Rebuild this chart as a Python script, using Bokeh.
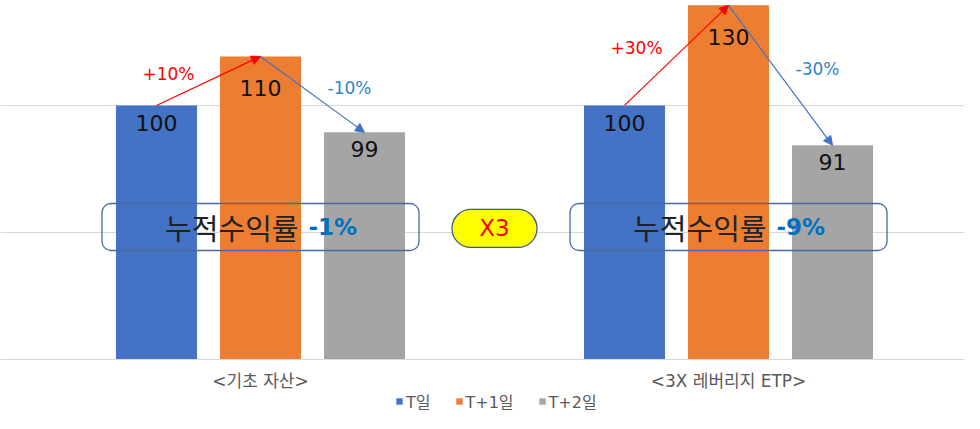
from bokeh.plotting import figure
from bokeh.layouts import column
from bokeh.models import (ColumnDataSource, Range1d, FixedTicker, BoxAnnotation,
                          Arrow, NormalHead, Legend, LegendItem)
from bokeh.core.properties import value
from bokeh.embed import file_html
from bokeh.resources import INLINE

# ---------------- data ----------------
groups = ["<기초 자산>", "<3X 레버리지 ETP>"]
series = ["T일", "T+1일", "T+2일"]
labels_t = [100, 100]
labels_t1 = [110, 130]
labels_t2 = [99, 91]
# bar heights as drawn in the (schematic, exaggerated) picture
heights_t = [100, 100]
heights_t1 = [119.3, 139.4]
heights_t2 = [89.4, 84.3]
changes_up = ["+10%", "+30%"]
changes_down = ["-10%", "-30%"]
cumulative_label = "누적수익률"
cumulative = ["-1%", "-9%"]
leverage = "X3"
gridline_values = [50, 100]

# ---------------- style ----------------
colors = ["#4472C4", "#ED7D31", "#A5A5A5"]
LATIN = "DejaVu Sans, Noto Sans CJK KR"
GROUP_STEP = 4.5
offsets = [-1, 0, 1]
BAR_W = 81 / 104
label_dy = [18, 32, 17]

centers = [i * GROUP_STEP for i in range(len(groups))]
mid = sum(centers) / len(centers)

p = figure(width=964, height=393, output_backend="svg", toolbar_location=None,
           x_range=Range1d(-2.5, 6.769), y_range=Range1d(0, 141.3),
           y_axis_location=None,
           min_border_left=0, min_border_right=0, min_border_top=0, min_border_bottom=34,
           outline_line_color=None, background_fill_color="white",
           border_fill_color="white")

p.xgrid.visible = False
p.ygrid.ticker = FixedTicker(ticks=gridline_values)
p.ygrid.grid_line_color = "#D9D9D9"
p.ygrid.grid_line_width = 1

# x axis: group labels
p.xaxis.ticker = FixedTicker(ticks=centers)
p.xaxis.major_label_overrides = {c: g for c, g in zip(centers, groups)}
p.xaxis.major_tick_out = 0
p.xaxis.major_tick_in = 0
p.xaxis.minor_tick_out = 0
p.xaxis.minor_tick_in = 0
p.xaxis.axis_line_color = "#D9D9D9"
p.xaxis.major_label_standoff = 11
p.xaxis.major_label_text_font = LATIN
p.xaxis.major_label_text_font_size = "17px"
p.xaxis.major_label_text_color = "#595959"

heights = [heights_t, heights_t1, heights_t2]
labels = [labels_t, labels_t1, labels_t2]

for s, name in enumerate(series):
    src = ColumnDataSource(dict(
        x=[c + offsets[s] for c in centers],
        top=heights[s],
        lab=[str(v) for v in labels[s]],
    ))
    p.vbar(x="x", top="top", bottom=0, width=BAR_W, source=src,
           fill_color=colors[s], line_color=None)
    p.text(x="x", y="top", text="lab", source=src, text_align="center",
           text_baseline="middle", y_offset=label_dy[s],
           text_font=value(LATIN), text_font_size="22px", text_color="#111111",
           level="overlay")

# arrows between bar tops
up_src = ColumnDataSource(dict(
    xs=[c + offsets[0] for c in centers], ys=heights_t,
    xe=[c + offsets[1] for c in centers], ye=heights_t1,
    xm=[c + (offsets[0] + offsets[1]) / 2 for c in centers],
    ym=[(a + b) / 2 for a, b in zip(heights_t, heights_t1)],
    t=changes_up))
down_src = ColumnDataSource(dict(
    xs=[c + offsets[1] for c in centers], ys=heights_t1,
    xe=[c + offsets[2] for c in centers], ye=heights_t2,
    xm=[c + (offsets[1] + offsets[2]) / 2 for c in centers],
    ym=[(a + b) / 2 for a, b in zip(heights_t1, heights_t2)],
    t=changes_down))

p.add_layout(Arrow(end=NormalHead(size=9, fill_color="#FF0000", line_color="#FF0000"),
                   x_start="xs", y_start="ys", x_end="xe", y_end="ye",
                   line_color="#FF0000", line_width=1.2, source=up_src))
p.add_layout(Arrow(end=NormalHead(size=9, fill_color="#4472C4", line_color="#4472C4"),
                   x_start="xs", y_start="ys", x_end="xe", y_end="ye",
                   line_color="#4472C4", line_width=1.2, source=down_src))

p.text(x="xm", y="ym", text="t", source=up_src, text_align="center",
       text_baseline="middle", x_offset=-40, y_offset=-7,
       text_font=value(LATIN), text_font_size="17px", text_color="#FF0000",
       level="overlay")
p.text(x="xm", y="ym", text="t", source=down_src, text_align="center",
       text_baseline="middle", x_offset=37, y_offset=-6,
       text_font=value(LATIN), text_font_size="17px", text_color="#2E86C8",
       level="overlay")

# cumulative-return boxes
for c in centers:
    p.add_layout(BoxAnnotation(left=c - 1.524, right=c + 1.524, top=61.4, bottom=42.9,
                               fill_color=None, fill_alpha=0, line_color="#4A67A0",
                               line_width=1.3, line_alpha=1, border_radius=9))

cum_src = ColumnDataSource(dict(x=centers, y=[52.0] * len(centers),
                                name=[cumulative_label] * len(centers), v=cumulative))
p.text(x="x", y="y", text="name", source=cum_src, text_align="right",
       text_baseline="middle", x_offset=38,
       text_font=value("Noto Sans CJK KR"), text_font_size="29px", text_color="#222222",
       level="overlay")
p.text(x="x", y="y", text="v", source=cum_src, text_align="left",
       text_baseline="middle", x_offset=48, text_font_style="bold",
       text_font=value("DejaVu Sans"), text_font_size="23px", text_color="#0070C0",
       level="overlay")

# leverage pill
p.add_layout(BoxAnnotation(left=mid - 0.409, right=mid + 0.409, top=59.06, bottom=44.1,
                           fill_color="#FFFF00", fill_alpha=1, line_color="#3F5A8A",
                           line_width=1.3, line_alpha=1, border_radius=19))
lev_src = ColumnDataSource(dict(x=[mid], y=[51.6], t=[leverage]))
p.text(x="x", y="y", text="t", source=lev_src, text_align="center",
       text_baseline="middle", text_font=value("DejaVu Sans"),
       text_font_size="23px", text_color="#FF0000", level="overlay")

# ---------------- legend strip ----------------
lg = figure(width=964, height=20, output_backend="svg", toolbar_location=None,
            x_range=Range1d(0, 1), y_range=Range1d(0, 1),
            x_axis_location=None, y_axis_location=None,
            min_border_left=0, min_border_right=0, min_border_top=0, min_border_bottom=0,
            outline_line_color=None, background_fill_color="white",
            border_fill_color="white")
lg.xgrid.visible = False
lg.ygrid.visible = False
items = []
for s, name in enumerate(series):
    # zero-height proxy bar: only its swatch is used by the legend
    r = lg.vbar(x=[0], top=[0], bottom=0, width=0, fill_color=colors[s], line_color=None)
    items.append(LegendItem(label=name, renderers=[r]))
legend = Legend(items=items, orientation="horizontal", location=(395, 0),
                border_line_color=None, background_fill_alpha=0,
                label_text_font=LATIN, label_text_font_size="16px",
                label_text_color="#595959", glyph_width=8, glyph_height=8,
                label_height=20, spacing=24, label_standoff=3, padding=0, margin=0)
lg.add_layout(legend, "center")

layout = column(p, lg, spacing=0)
open("out.html", "w").write(file_html(layout, INLINE))
